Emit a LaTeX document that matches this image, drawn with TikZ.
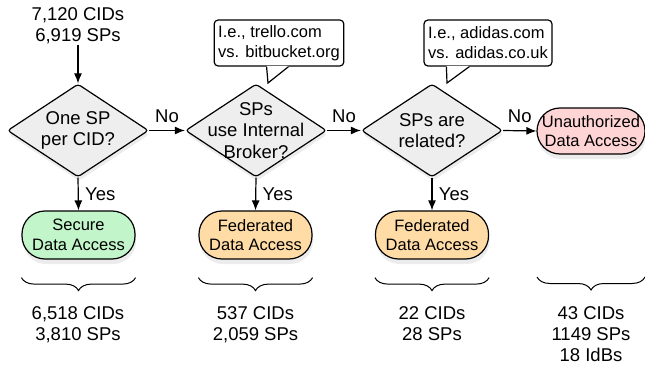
\documentclass[tikz,border=0pt]{standalone}
\usepackage{fontspec}
\setmainfont{Liberation Sans}
\usepackage{xcolor}
\usetikzlibrary{calc}
\usetikzlibrary{arrows.meta,positioning,shadows}
\usetikzlibrary{shapes.geometric}
\usetikzlibrary{decorations.pathreplacing}

\definecolor{askgray}{HTML}{EEEEEE}
\definecolor{securegreen}{HTML}{C2F5C9}
\definecolor{fedorange}{HTML}{FFDCA5}
\definecolor{leakpink}{HTML}{FFD4D4}

\begin{document}
\begin{tikzpicture}[x=1pt,y=1pt,line width=1.2pt,
	question/.style={diamond,draw,fill=askgray,rounded corners=3pt,minimum width=141pt,minimum height=93pt,inner sep=-20pt,align=center,font=\fontsize{18.5}{21.5}\selectfont,drop shadow={shadow xshift=1pt,shadow yshift=-4pt,opacity=0.15}},
	outcome/.style={draw,rounded corners=23pt,minimum width=113pt,minimum height=48pt,inner sep=0pt,align=center,font=\fontsize{16.5}{19.5}\selectfont,drop shadow={shadow xshift=1pt,shadow yshift=-5pt,opacity=0.15}},
	tally/.style={align=center,inner sep=0pt,font=\fontsize{18.5}{21}\selectfont},
	remark/.style={draw,fill=white,rounded corners=4pt,minimum width=128pt,minimum height=46pt,inner sep=4pt,align=left,font=\fontsize{16.5}{20}\selectfont},
	flow/.style={-{Latex[length=10pt,width=8pt]}},
	answer/.style={font=\fontsize{18.5}{21}\selectfont},
	bracket/.style={line width=1pt,decorate,decoration={brace,mirror,amplitude=13pt}}]
		\useasboundingbox (0,0) rectangle (645,-369);
		% start
		\node[tally] (start) at (78,-26) {7,120 CIDs\\6,919 SPs};
		% questions
		\node[question] (q1) at (78,-130.5) {One SP\\per CID?};
		\node[question] (q2) at (256,-130.5) {SPs\\use Internal\\Broker?};
		\node[question] (q3) at (432,-130.5) {SPs are\\related?};
		% outcomes
		\node[outcome,fill=securegreen] (secure) at (78.5,-235) {Secure\\Data Access};
		\node[outcome,fill=fedorange] (fed1) at (255.5,-235) {Federated\\Data Access};
		\node[outcome,fill=fedorange] (fed2) at (432,-235) {Federated\\Data Access};
		\node[outcome,fill=leakpink,minimum width=108pt,minimum height=46pt] (leak) at (591,-131) {Unauthorized\\Data Access};
		% remarks
		\node[remark] (rem1) at (279,-43) {I.e., trello.com\\vs. bitbucket.org};
		\node[remark] (rem2) at (488,-43) {I.e., adidas.com\\vs. adidas.co.uk};
		\coordinate (tip1) at (268,-83);
		\coordinate (tip2) at (447,-83);
		\fill[white] ($(rem1.south west)+(53,0.8)$) -- ($(rem1.south west)+(53,0)$) -- (tip1) -- ($(rem1.south west)+(75,0)$) -- ($(rem1.south west)+(75,0.8)$) -- cycle;
		\draw ($(rem1.south west)+(53,0)$) -- (tip1) -- ($(rem1.south west)+(75,0)$);
		\fill[white] ($(rem2.south west)+(23,0.8)$) -- ($(rem2.south west)+(23,0)$) -- (tip2) -- ($(rem2.south west)+(46,0)$) -- ($(rem2.south west)+(46,0.8)$) -- cycle;
		\draw ($(rem2.south west)+(23,0)$) -- (tip2) -- ($(rem2.south west)+(46,0)$);
		% arrows
		\draw[flow] (start) -- (q1.north);
		\draw[flow] (q1.east) -- node[answer,above,yshift=4pt] {No} (q2.west);
		\draw[flow] (q2.east) -- node[answer,above,yshift=4pt] {No} (q3.west);
		\draw[flow] (q3.east) -- node[answer,above,yshift=4pt] {No} (leak.west);
		\draw[flow] (q1.south) -- node[answer,right,xshift=3pt] {Yes} (secure.north);
		\draw[flow] (q2.south) -- node[answer,right,xshift=3pt] {Yes} (fed1.north);
		\draw[flow] (q3.south) -- node[answer,right,xshift=3pt] {Yes} (fed2.north);
		% braces and counts
		\draw[bracket] ($(secure.south west)+(0,-18)$) -- ($(secure.south east)+(0,-18)$);
		\draw[bracket] ($(fed1.south west)+(0,-18)$) -- ($(fed1.south east)+(0,-18)$);
		\draw[bracket] ($(fed2.south west)+(0,-18)$) -- ($(fed2.south east)+(0,-18)$);
		\draw[bracket] (537,-277) -- (645,-277);
		\node[tally,anchor=north] (n1) at (78,-306) {6,518 CIDs\\3,810 SPs};
		\node[tally,anchor=north] (n2) at (255.5,-306) {537 CIDs\\2,059 SPs};
		\node[tally,anchor=north] (n3) at (432,-306) {22 CIDs\\28 SPs};
		\node[tally,anchor=north] (n4) at (591,-306) {43 CIDs\\1149 SPs\\18 IdBs};
	\end{tikzpicture}
\end{document}
